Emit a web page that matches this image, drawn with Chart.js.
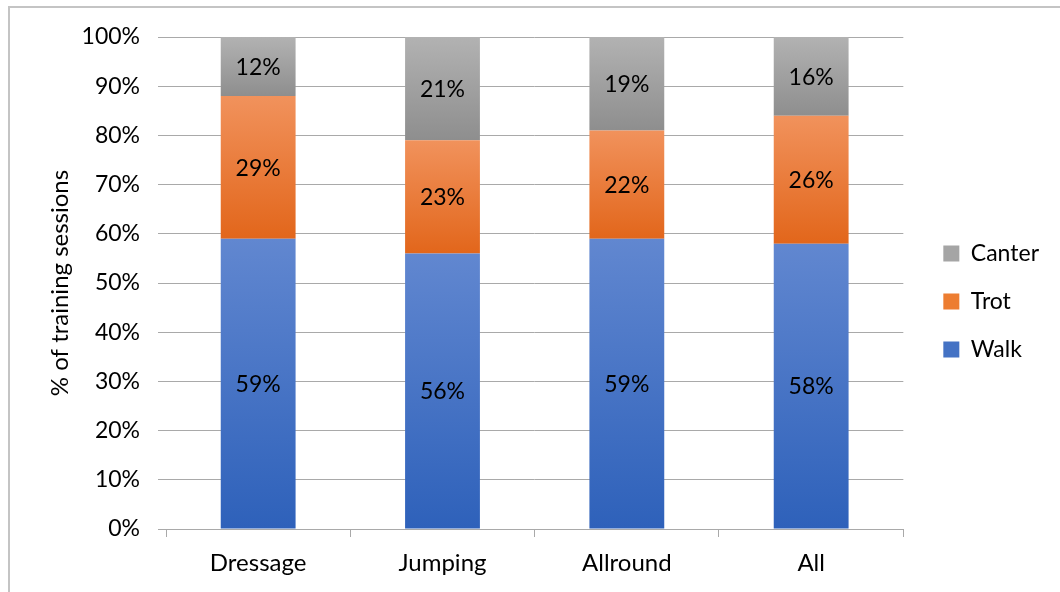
<!DOCTYPE html>
<html>
<head>
<meta charset="utf-8">
<script src="https://cdn.jsdelivr.net/npm/chart.js@4/dist/chart.umd.min.js"></script>
<style>
  html, body { margin: 0; padding: 0; background: #fff; overflow: hidden; }
  #wrap { position: relative; width: 1060px; height: 592px; }
  #frame { position: absolute; left: 8px; top: 6px; width: 1100px; height: 700px; border: 2px solid #c4c4c4; box-sizing: border-box; }
  #chart { position: absolute; left: 0; top: 0; }
</style>
</head>
<body>
<div id="wrap">
  <div id="frame"></div>
  <canvas id="chart" width="1060" height="592"></canvas>
</div>
<script>
// Data
const categories = ['Dressage', 'Jumping', 'Allround', 'All'];
const walkValues = [59, 56, 59, 58];
const trotValues = [29, 23, 22, 26];
const canterValues = [12, 21, 19, 16];
const seriesNames = ['Walk', 'Trot', 'Canter'];
const yTicks = [0, 10, 20, 30, 40, 50, 60, 70, 80, 90, 100];

const FONT = 'Lato, "Open Sans", sans-serif';
const gridColor = '#a9a9a9';

// top / bottom colours of each segment's vertical gradient
const walkColors = ['#6187d0', '#2e61ba'];
const trotColors = ['#f1925c', '#e2661b'];
const canterColors = ['#b2b2b2', '#8e8e8e'];
const legendColors = ['#4472c4', '#ed7d31', '#a5a5a5'];

function segmentGradient(colors) {
    return (context) => {
        const chart = context.chart;
        if (!chart.chartArea || context.type !== 'data') return colors[1];
        const y = chart.scales.y;
        const di = context.datasetIndex;
        const i = context.dataIndex;
        let start = 0;
        for (let d = 0; d < di; d++) start += chart.data.datasets[d].data[i];
        const end = start + chart.data.datasets[di].data[i];
        const g = chart.ctx.createLinearGradient(0, y.getPixelForValue(end), 0, y.getPixelForValue(start));
        g.addColorStop(0, colors[0]);
        g.addColorStop(1, colors[1]);
        return g;
    };
}

// value labels in the middle of each segment
const segmentLabels = {
    id: 'segmentLabels',
    afterDatasetsDraw(chart) {
        const ctx = chart.ctx;
        ctx.save();
        ctx.font = '23px ' + FONT;
        ctx.fillStyle = '#000';
        ctx.textAlign = 'center';
        ctx.textBaseline = 'middle';
        chart.data.datasets.forEach((ds, di) => {
            chart.getDatasetMeta(di).data.forEach((bar, i) => {
                ctx.fillText(ds.data[i] + '%', bar.x, (bar.y + bar.base) / 2 + 1);
            });
        });
        ctx.restore();
    }
};

// nudge the legend to where the original sits
const legendNudge = {
    id: 'legendNudge',
    afterLayout(chart) {
        const lg = chart.legend;
        if (!lg) return;
        const dx = 15, dy = -13;
        lg.left += dx; lg.right += dx;
        lg.top += dy; lg.bottom += dy;
    }
};

new Chart(document.getElementById('chart'), {
    type: 'bar',
    data: {
        labels: categories,
        datasets: [
            { label: seriesNames[0], data: walkValues, backgroundColor: segmentGradient(walkColors) },
            { label: seriesNames[1], data: trotValues, backgroundColor: segmentGradient(trotColors) },
            { label: seriesNames[2], data: canterValues, backgroundColor: segmentGradient(canterColors) }
        ]
    },
    options: {
        responsive: false,
        animation: false,
        layout: { padding: { left: 46, top: 37, right: 26, bottom: 0 } },
        datasets: {
            bar: { categoryPercentage: 1, barPercentage: 0.406, borderWidth: 0 }
        },
        plugins: {
            tooltip: { enabled: false },
            legend: {
                position: 'right',
                reverse: true,
                labels: {
                    boxWidth: 16,
                    boxHeight: 16,
                    padding: 25,
                    color: '#000',
                    font: { family: FONT, size: 23 },
                    generateLabels(chart) {
                        const items = Chart.defaults.plugins.legend.labels.generateLabels(chart);
                        items.forEach(it => {
                            it.fillStyle = legendColors[it.datasetIndex];
                            it.strokeStyle = legendColors[it.datasetIndex];
                            it.lineWidth = 0;
                        });
                        return items;
                    }
                }
            }
        },
        scales: {
            x: {
                stacked: true,
                afterFit(scale) { scale.height = 63; },
                grid: { drawOnChartArea: false, drawTicks: true, tickLength: 8, color: gridColor, lineWidth: 1 },
                border: { display: true, color: gridColor, width: 1 },
                ticks: { color: '#000', padding: 12, font: { family: FONT, size: 24 } }
            },
            y: {
                stacked: true,
                min: 0,
                max: 100,
                afterFit(scale) { scale.width = 120; },
                afterBuildTicks(scale) { scale.ticks = yTicks.map(v => ({ value: v })); },
                grid: { color: gridColor, lineWidth: 1, drawTicks: true, tickLength: 8 },
                border: { display: false },
                ticks: {
                    color: '#000',
                    padding: 18,
                    font: { family: FONT, size: 23 },
                    callback: (v) => v + '%'
                },
                title: {
                    display: true,
                    text: '% of training sessions',
                    color: '#000',
                    padding: { top: 0, bottom: 4 },
                    font: { family: FONT, size: 24 }
                }
            }
        }
    },
    plugins: [segmentLabels, legendNudge]
});
</script>
</body>
</html>
